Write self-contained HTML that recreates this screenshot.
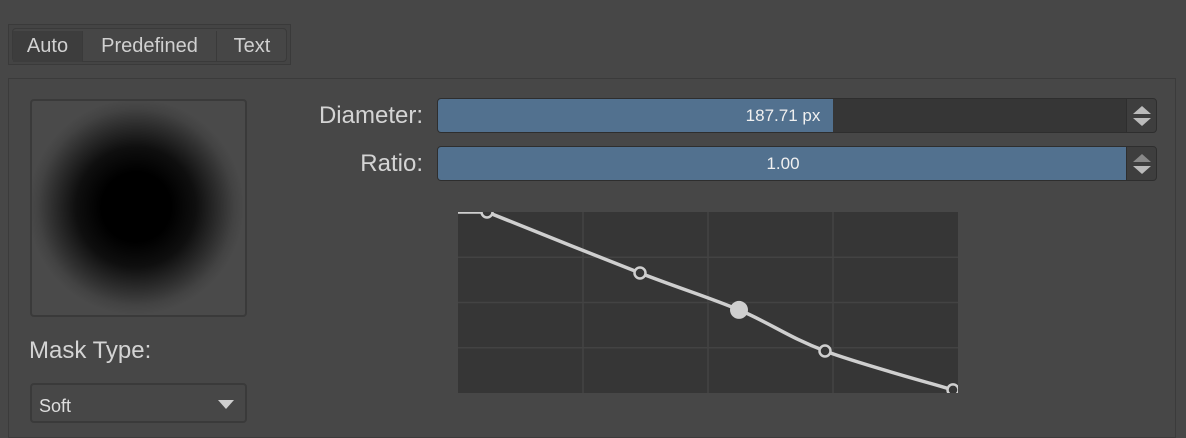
<!DOCTYPE html>
<html><head><meta charset="utf-8"><style>
*{box-sizing:border-box;margin:0;padding:0}
body{width:1186px;height:418px;background:#474747;overflow:hidden;position:relative;font-family:"Liberation Sans",sans-serif;color:#d6d6d6}
.abs{position:absolute}
.tab{position:absolute;top:31px;height:31px;font-size:20px;line-height:30px;text-align:center;color:#d0d0d0}
.lbl{position:absolute;right:763px;font-size:24px;color:#d4d4d4}
.slider{position:absolute;left:437px;width:720px;height:35px;background:#363636;border:1px solid #2e2e2e;border-radius:4px;overflow:hidden}
.fill{position:absolute;left:0;top:0;bottom:0;background:#52718f}
.val{position:absolute;left:0;width:690px;top:0;height:33px;line-height:33px;text-align:center;font-size:17px;color:#f0f0f0}
.spin{position:absolute;right:0;top:0;width:30px;height:33px;background:#3e3e3e;border-left:1px solid #2e2e2e}
</style></head><body>
<div class="abs" style="left:8px;top:24px;width:283px;height:41px;border:1px solid #3a3a3a;background:#444"></div>
<div class="abs" style="left:12px;top:28px;width:275px;height:34px;border:1px solid #3a3a3a;border-radius:4px;background:#464646"></div>
<div class="tab" style="left:13px;width:70px;background:#3d3d3d;border-right:1px solid #3a3a3a">Auto</div>
<div class="tab" style="left:83px;width:134px;border-right:1px solid #3a3a3a">Predefined</div>
<div class="tab" style="left:217px;width:70px">Text</div>
<div class="abs" style="left:8px;top:78px;width:1168px;height:360px;border:1px solid #3b3b3b"></div>
<div class="abs" style="left:30px;top:99px;width:217px;height:218px;border:2px solid #3a3a3a;border-radius:4px;background:#4a4a4a;overflow:hidden">
<div style="position:absolute;left:-2px;top:-2px;width:217px;height:218px;background:radial-gradient(circle at 106px 108px,#000 0px,#000 35px,rgba(0,0,0,0.8) 60px,rgba(0,0,0,0.4) 82px,rgba(0,0,0,0.1) 98px,rgba(0,0,0,0) 108px)"></div></div>
<div class="abs" style="left:29px;top:337px;font-size:24px;color:#d4d4d4">Mask Type:</div>
<div class="abs" style="left:30px;top:383px;width:217px;height:40px;border:2px solid #3a3a3a;border-radius:4px;background:#474747;font-size:18px;padding:11px 0 0 7px;color:#ddd">Soft<span style="position:absolute;right:11px;top:15px;width:0;height:0;border-left:8px solid transparent;border-right:8px solid transparent;border-top:9px solid #cfcfcf"></span></div>
<div class="lbl" style="top:102px">Diameter:</div>
<div class="lbl" style="top:150px">Ratio:</div>
<div class="slider" style="top:98px"><div class="fill" style="width:395px"></div><div class="val">187.71 px</div><div class="spin"><svg width="30" height="33"><polygon points="6,15 15,7 24,15" fill="#bbb"/><polygon points="6,19 15,27 24,19" fill="#bbb"/></svg></div></div>
<div class="slider" style="top:146px"><div class="fill" style="width:690px"></div><div class="val">1.00</div><div class="spin"><svg width="30" height="33"><polygon points="6,15 15,7 24,15" fill="#888"/><polygon points="6,19 15,27 24,19" fill="#bbb"/></svg></div></div>
<svg class="abs" style="left:0;top:0" width="1186" height="418" id="chart"><defs><clipPath id="cp"><rect x="458" y="212" width="500" height="181"/></clipPath></defs></svg>
<script>
const xs=[0.058,0.364,0.562,0.734,0.99];
const ys=[1.0,0.663,0.459,0.232,0.017];
const filled=[false,false,true,false,false];
const X0=458,X1=958,Y0=393,Y1=212;
const sx=v=>X0+v*(X1-X0), sy=v=>Y0-v*(Y0-Y1);
const svg=document.getElementById('chart');const NS='http://www.w3.org/2000/svg';
const grp=document.createElementNS(NS,'g');grp.setAttribute('clip-path','url(#cp)');svg.appendChild(grp);
function mk(t,a){const e=document.createElementNS(NS,t);for(const k in a)e.setAttribute(k,a[k]);grp.appendChild(e);return e;}
const bg=mk('rect',{x:X0,y:Y1,width:X1-X0,height:Y0-Y1,fill:'#363636'});


for(let i=1;i<4;i++){
 const g1=mk('line',{x1:sx(i/4),x2:sx(i/4),y1:Y1,y2:Y0,stroke:'#434343','stroke-width':1.5});
 
 
 const g2=mk('line',{x1:X0,x2:X1,y1:sy(i/4),y2:sy(i/4),stroke:'#434343','stroke-width':1.5});
 
 
}
const P=xs.map((x,i)=>[sx(x),sy(ys[i])]);
let d='M'+X0+','+sy(ys[0])+' L'+P[0][0]+','+P[0][1];
for(let i=0;i<P.length-1;i++){const p0=P[i-1]||P[i],p1=P[i],p2=P[i+1],p3=P[i+2]||P[i+1];
 d+=' C'+(p1[0]+(p2[0]-p0[0])/6)+','+(p1[1]+(p2[1]-p0[1])/6)+' '+(p2[0]-(p3[0]-p1[0])/6)+','+(p2[1]-(p3[1]-p1[1])/6)+' '+p2[0]+','+p2[1];}
const cv=mk('path',{d:d,fill:'none',stroke:'#cfcfcf','stroke-width':3.5});


P.forEach((p,i)=>{
 const c=filled[i]?mk('circle',{cx:p[0],cy:p[1],r:9,fill:'#cfcfcf'}):mk('circle',{cx:p[0],cy:p[1],r:5.5,fill:'#363636',stroke:'#cfcfcf','stroke-width':2.5});
 
 
});
</script>
</body></html>
